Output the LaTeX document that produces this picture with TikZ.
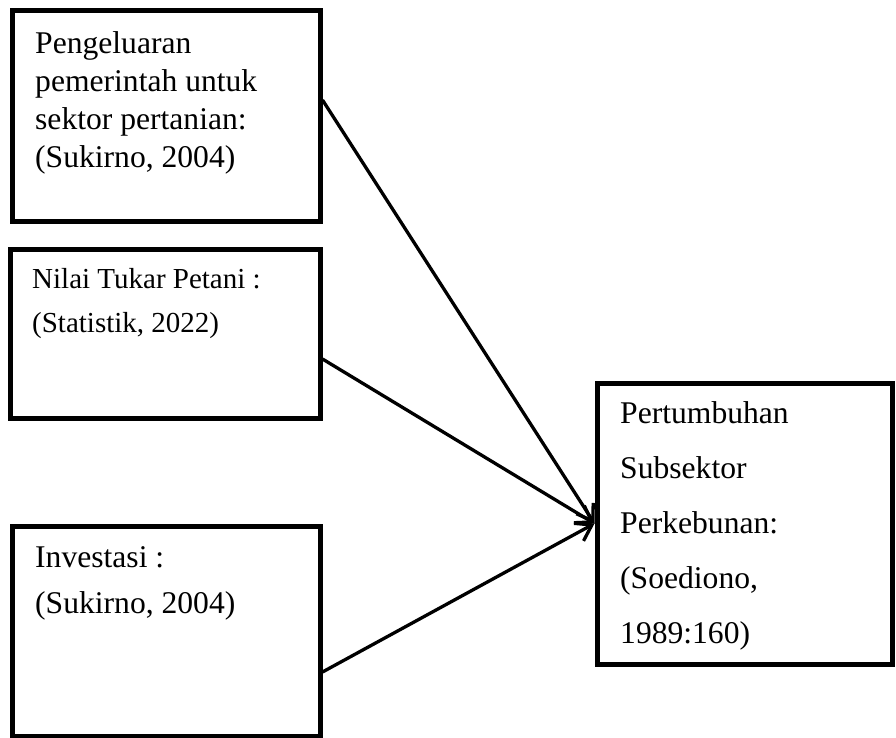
\documentclass[tikz,border=0pt]{standalone}
\usepackage{fontspec}
\setmainfont{Liberation Serif}
\usetikzlibrary{arrows.meta}
\begin{document}
\begin{tikzpicture}[x=1pt,y=-1pt,
  box/.style={draw=black, line width=5pt, inner sep=0pt, rectangle},
  lbl/.style={anchor=north west, inner sep=0pt, align=left},
  twelve/.style={font=\fontsize{31.6}{38}\selectfont},
  link/.style={line width=3.3pt, -{Straight Barb[length=15pt,width=20pt,line width=3.3pt]}}]
\useasboundingbox (0,0) rectangle (896,738);
% boxes
\node[box, minimum width=307.5pt, minimum height=210pt] (b1) at (166.25,116) {};
\node[box, minimum width=309.5pt, minimum height=169pt] (b2) at (165.25,333.5) {};
\node[box, minimum width=307.5pt, minimum height=210pt] (b3) at (166.25,631) {};
\node[box, minimum width=295pt, minimum height=281pt] (b4) at (744.5,523.5) {};
% texts
\node[lbl, font=\fontsize{31.6}{38}\selectfont] (t1) at (35,53) {\rule{0pt}{0pt}\smash{Pengeluaran}\\pemerintah untuk\\sektor pertanian:\\(Sukirno, 2004)};
\node[lbl, font=\fontsize{29}{44}\selectfont] (t2) at (32,288) {\smash{Nilai Tukar Petani :}\\(Statistik, 2022)};
\node[lbl, font=\fontsize{31.6}{46}\selectfont] (t3) at (35,567) {\smash{Investasi :}\\(Sukirno, 2004)};
\node[lbl, font=\fontsize{31.6}{55}\selectfont] (t4) at (620,423) {\smash{Pertumbuhan}\\Subsektor\\Perkebunan:\\(Soediono,\\1989:160)};
% connectors
\draw[link] (b1.east) ++(0,-16) -- (b4.west);
\draw[link] (b2.east) ++(0,25.5) -- (b4.west);
\draw[link] (b3.east) ++(0,41) -- (b4.west);
\end{tikzpicture}
\end{document}
